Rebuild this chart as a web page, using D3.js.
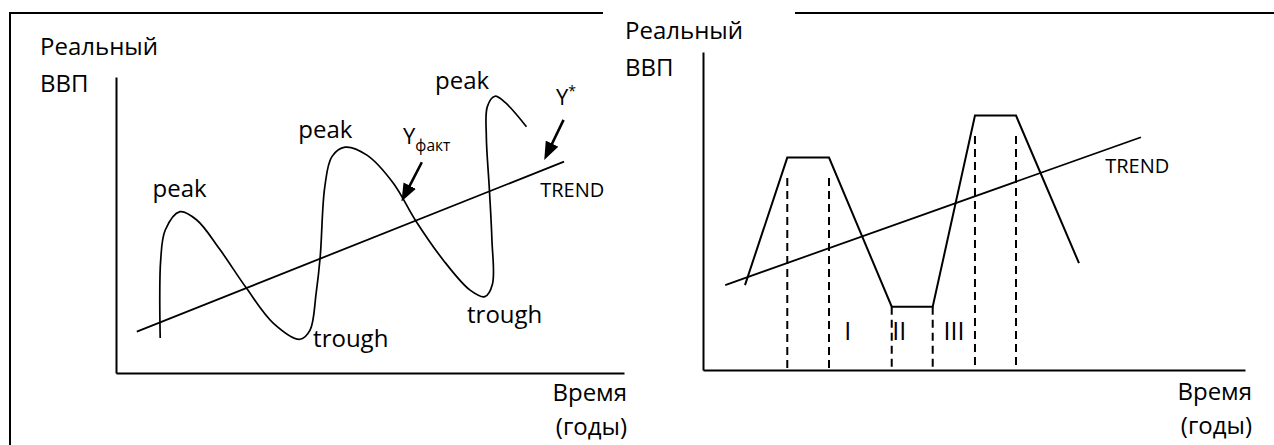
<!DOCTYPE html>
<html>
<head>
<meta charset="utf-8">
<script src="https://cdn.jsdelivr.net/npm/d3@7"></script>
<style>
  body { margin: 0; background: #fff; }
  text { font-family: "Open Sans", sans-serif; fill: #000; }
</style>
</head>
<body>
<svg id="chart" width="1274" height="445"></svg>
<script>
// ---- données (unités du graphique : temps 0..100, PIB 0..100) ----
// graphique de gauche : courbe ondulée + tendance
const waveTime = [8.7, 8.8, 9.7, 12.6, 15.9, 20.5, 25.7, 31.0, 36.2, 38.2, 39.4, 40.2, 41.1, 42.5, 45.1,
                  49.4, 54.6, 58.9, 64.4, 69.7, 72.6, 74.1, 74.0, 73.5, 72.9, 73.1, 74.6, 76.6, 80.8];
const waveGdp  = [11.8, 38.2, 48.3, 54.5, 51.7, 41.6, 28.6, 16.8, 11.4, 14.5, 27.0, 39.3, 62.9, 73.1, 76.3,
                  73.6, 64.1, 51.7, 38.2, 28.0, 25.8, 30.0, 45.0, 62.0, 80.0, 90.0, 93.5, 91.4, 83.2];
const trendLeftTime = [4.1, 88.2];
const trendLeftGdp  = [14.0, 71.4];

const peakLabels    = ["peak", "peak", "peak"];
const peakTime      = [7.2, 35.9, 62.8];
const peakGdp       = [59.6, 79.3, 96.1];
const troughLabels  = ["trough", "trough"];
const troughTime    = [38.8, 69.1];
const troughGdp     = [8.7, 17.0];

// flèches : [début, pointe]
const arrowFactTime = [60.2, 56.2];
const arrowFactGdp  = [71.2, 57.9];
const arrowStarTime = [88.1, 84.3];
const arrowStarGdp  = [85.5, 72.0];

// graphique de droite : cycle en trapèzes + tendance
const stepTime = [7.75, 15.55, 23.25, 34.82, 42.38, 50.18, 57.75, 69.37];
const stepGdp  = [26.7, 66.8, 66.8, 19.9, 19.9, 80.0, 80.0, 33.6];
const trendRightTime = [4.1, 80.8];
const trendRightGdp  = [26.7, 73.2];
const dashTime = [15.55, 23.25, 34.82, 42.38, 50.18, 57.75];
const dashTop  = [60.4, 60.4, 19.9, 19.9, 73.6, 73.6];
const phaseLabels = ["I", "II", "III"];
const phaseTime   = [26.7, 36.2, 46.3];
const phaseGdp    = [9.3, 9.3, 9.3];

const svg = d3.select("#chart");

// cadre (bordures du tableau)
svg.append("path")
    .attr("d", "M10,445V13H603M795,13H1274")
    .attr("fill", "none")
    .attr("stroke", "#000")
    .attr("stroke-width", 2);

// Échelles
const xL = d3.scaleLinear().domain([0, 100]).range([116, 624]);
const yL = d3.scaleLinear().domain([0, 100]).range([373, 77]);
const xR = d3.scaleLinear().domain([0, 100]).range([703, 1245]);
const yR = d3.scaleLinear().domain([0, 100]).range([370, 52]);

// marqueur de flèche
svg.append("defs").append("marker")
    .attr("id", "head")
    .attr("viewBox", "0 0 18 14")
    .attr("refX", 18).attr("refY", 7)
    .attr("markerWidth", 18).attr("markerHeight", 14)
    .attr("markerUnits", "userSpaceOnUse")
    .attr("orient", "auto")
    .append("path")
    .attr("d", "M0,0L18,7L0,14Z")
    .attr("fill", "#000");

function drawAxes(x, y) {
    const ax = svg.append("g")
        .attr("transform", `translate(0,${y.range()[0]})`)
        .call(d3.axisBottom(x).ticks(0).tickSizeOuter(0));
    const ay = svg.append("g")
        .attr("transform", `translate(${x.range()[0]},0)`)
        .call(d3.axisLeft(y).ticks(0).tickSizeOuter(0));
    [ax, ay].forEach(a => a.select(".domain").attr("stroke", "#000").attr("stroke-width", 2));
}

function axisTitles(x0, yTop, xEnd, yBottom) {
    svg.append("text").attr("x", x0).attr("y", yTop).attr("font-size", 24).text("Реальный");
    svg.append("text").attr("x", x0).attr("y", yTop + 37).attr("font-size", 24).text("ВВП");
    svg.append("text").attr("x", xEnd).attr("y", yBottom).attr("text-anchor", "end").attr("font-size", 24).text("Время");
    svg.append("text").attr("x", xEnd).attr("y", yBottom + 34).attr("text-anchor", "end").attr("font-size", 24).text("(годы)");
}

function drawArrow(x, y, ts, gs) {
    const x1 = x(ts[0]), y1 = y(gs[0]), x2 = x(ts[1]), y2 = y(gs[1]);
    const len = Math.hypot(x2 - x1, y2 - y1);
    // on raccourcit un peu le trait pour que la pointe reste nette
    const k = (len - 9) / len;
    svg.append("line")
        .attr("x1", x1).attr("y1", y1)
        .attr("x2", x1 + (x2 - x1) * k).attr("y2", y1 + (y2 - y1) * k)
        .attr("stroke", "#000").attr("stroke-width", 2.6);
    svg.append("line")
        .attr("x1", x1 + (x2 - x1) * k).attr("y1", y1 + (y2 - y1) * k)
        .attr("x2", x2).attr("y2", y2)
        .attr("stroke", "none")
        .attr("marker-end", "url(#head)");
}

// ---- Graphique de gauche ----
drawAxes(xL, yL);
axisTitles(40, 55, 627, 401);

const trendL = d3.zip(trendLeftTime, trendLeftGdp);
svg.append("path")
    .attr("d", d3.line().x(d => xL(d[0])).y(d => yL(d[1]))(trendL))
    .attr("fill", "none").attr("stroke", "#000").attr("stroke-width", 1.8);

const wave = d3.zip(waveTime, waveGdp);
svg.append("path")
    .attr("d", d3.line().x(d => xL(d[0])).y(d => yL(d[1])).curve(d3.curveCatmullRom.alpha(0.5))(wave))
    .attr("fill", "none").attr("stroke", "#000").attr("stroke-width", 1.7);

peakLabels.forEach((t, i) => {
    svg.append("text").attr("x", xL(peakTime[i])).attr("y", yL(peakGdp[i])).attr("font-size", 24).text(t);
});
troughLabels.forEach((t, i) => {
    svg.append("text").attr("x", xL(troughTime[i])).attr("y", yL(troughGdp[i])).attr("font-size", 24).text(t);
});

svg.append("text").attr("x", xL(83.5)).attr("y", yL(59.4)).attr("font-size", 20).text("TREND");

const yFact = svg.append("text").attr("x", xL(56.5)).attr("y", yL(77.4)).attr("font-size", 22);
yFact.append("tspan").text("Y");
yFact.append("tspan").attr("font-size", 15.5).attr("dy", 7).text("факт");

const yStar = svg.append("text").attr("x", xL(86.6)).attr("y", yL(90.4)).attr("font-size", 22);
yStar.append("tspan").text("Y");
yStar.append("tspan").attr("font-size", 14).attr("dy", -9).text("*");

drawArrow(xL, yL, arrowFactTime, arrowFactGdp);
drawArrow(xL, yL, arrowStarTime, arrowStarGdp);

// ---- Graphique de droite ----
drawAxes(xR, yR);
axisTitles(625, 39, 1252, 400);

dashTime.forEach((t, i) => {
    svg.append("line")
        .attr("x1", xR(t)).attr("x2", xR(t))
        .attr("y1", yR(dashTop[i])).attr("y2", yR(0))
        .attr("stroke", "#000").attr("stroke-width", 2)
        .attr("stroke-dasharray", "8,5");
});

const trendR = d3.zip(trendRightTime, trendRightGdp);
svg.append("path")
    .attr("d", d3.line().x(d => xR(d[0])).y(d => yR(d[1]))(trendR))
    .attr("fill", "none").attr("stroke", "#000").attr("stroke-width", 1.8);

const steps = d3.zip(stepTime, stepGdp);
svg.append("path")
    .attr("d", d3.line().x(d => xR(d[0])).y(d => yR(d[1]))(steps))
    .attr("fill", "none").attr("stroke", "#000").attr("stroke-width", 2);

svg.append("text").attr("x", xR(74.2)).attr("y", yR(61.9)).attr("font-size", 20).text("TREND");

phaseLabels.forEach((t, i) => {
    svg.append("text")
        .attr("x", xR(phaseTime[i])).attr("y", yR(phaseGdp[i]))
        .attr("text-anchor", "middle").attr("font-size", 25)
        .text(t);
});
</script>
</body>
</html>
